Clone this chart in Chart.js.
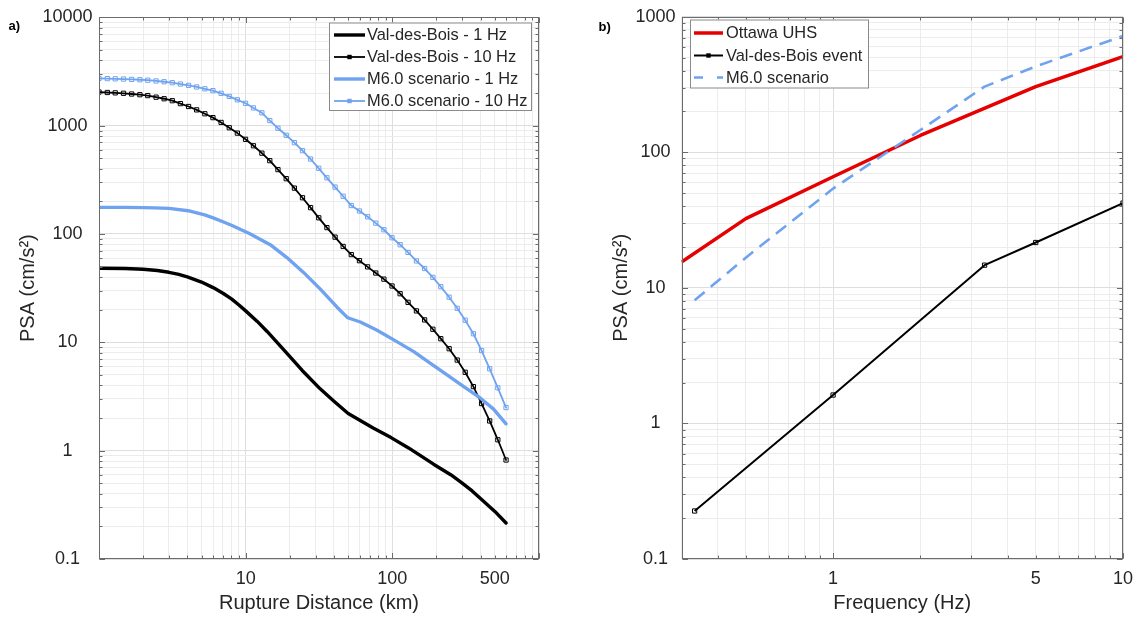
<!DOCTYPE html>
<html><head><meta charset="utf-8">
<script src="https://cdn.jsdelivr.net/npm/chart.js@4"></script>
<style>
html,body{margin:0;padding:0;background:#fff;width:1143px;height:617px;overflow:hidden;}
.pane{position:absolute;top:0;}
</style></head><body>
<div class="pane" style="left:0;width:560px;height:617px"><canvas id="cA" width="560" height="617"></canvas></div>
<div class="pane" style="left:580px;width:563px;height:617px"><canvas id="cB" width="563" height="617"></canvas></div>
<script>
// ---------------- data (panel a) ----------------
const distanceKm = [1, 1.14, 1.29, 1.47, 1.67, 1.9, 2.15, 2.45, 2.78, 3.16, 3.59, 4.08, 4.63, 5.27, 5.98, 6.8, 7.73, 8.78, 9.98, 11.3, 12.9, 14.6, 16.6, 18.9, 21.5, 24.4, 27.7, 31.5, 35.8, 40.7, 46.2, 52.5, 59.7, 67.8, 77.1, 87.6, 99.5, 113, 128, 146, 166, 189, 214, 244, 277, 314, 357, 406, 461, 524, 596];
const vdb10Hz = [2042, 2023, 2007, 1989, 1959, 1930, 1894, 1831, 1771, 1699, 1597, 1502, 1398, 1287, 1186, 1070, 956, 853, 748, 652, 557, 475, 393, 324, 265, 216, 175, 141, 114.5, 93.5, 76.7, 64.5, 56.7, 49.7, 43.6, 38.3, 33.1, 28.1, 23.4, 19.5, 16.1, 13.2, 10.8, 8.73, 6.86, 5.29, 3.9, 2.72, 1.88, 1.26, 0.82];
const m6_10Hz = [2729, 2716, 2704, 2692, 2671, 2652, 2628, 2584, 2541, 2491, 2421, 2354, 2275, 2188, 2104, 1989, 1861, 1732, 1608, 1457, 1313, 1114, 947, 815, 696, 587, 492, 404, 330, 271, 223, 183, 163, 144, 126, 109.4, 92.3, 79.6, 67.6, 56.4, 48.0, 39.8, 32.6, 26.1, 20.6, 16.0, 12.0, 8.4, 5.7, 3.8, 2.5];
const vdb1HzDist = [1, 1.5, 2, 2.5, 3, 3.5, 4, 5, 6, 7, 8, 9, 10, 12, 14, 18.4, 24.3, 32.2, 40, 50, 74, 98, 129, 191, 250, 298, 350, 415, 500, 596];
const vdb1Hz = [48.3, 48.0, 47.3, 46.0, 44.3, 42.3, 40.2, 36.0, 32.0, 28.4, 25.2, 22.1, 19.5, 15.6, 12.6, 8.4, 5.5, 3.72, 2.86, 2.2, 1.62, 1.32, 1.06, 0.75, 0.60, 0.505, 0.425, 0.345, 0.275, 0.215];
const m6_1HzDist = [1, 1.5, 2, 2.4, 3, 4.05, 5.25, 6, 7, 8, 10.6, 14.7, 19.1, 24.8, 32.3, 42, 47, 49.5, 52, 60.5, 78.7, 108, 140, 182, 236, 307, 399, 490, 596];
const m6_1Hz = [176, 176, 175, 174, 172.5, 164, 150, 141, 129.6, 120.5, 101, 79.7, 60.6, 44.2, 31.0, 21.1, 18.1, 16.9, 16.5, 15.4, 12.9, 10.1, 8.2, 6.4, 5.0, 3.9, 3.05, 2.42, 1.77];
const xLabelsA = [10, 100, 500];
const yLabelsA = [0.1, 1, 10, 100, 1000, 10000];
// ---------------- data (panel b) ----------------
const freqUHS = [0.3, 0.5, 1, 2, 5, 10];
const ottawaUHS = [15.5, 32.4, 66, 133, 305, 507];
const freqEvent = [0.333, 1, 3.33, 5, 10];
const vdbEvent = [0.226, 1.62, 14.7, 21.6, 42.2];
const freqScenario = [0.333, 0.5, 1, 2, 3.33, 5, 10];
const m6Scenario = [8.1, 16.7, 54, 146, 305, 430, 720];
const xLabelsB = [1, 5, 10];
const yLabelsB = [0.1, 1, 10, 100, 1000];

const FONT = '"Liberation Sans", Arial, Helvetica, sans-serif';
const TXT = '#262626';
const BLUE = '#6fa3f0';
const RED = '#e60000';
Chart.defaults.font.family = FONT;

function logGrid(min, max) {
  const out = [];
  for (let e = Math.floor(Math.log10(min)); e <= Math.ceil(Math.log10(max)); e++) {
    for (let k = 1; k < 10; k++) {
      const v = +(k * Math.pow(10, e)).toPrecision(6);
      if (v >= min * 0.9999 && v <= max * 1.0001) out.push(v);
    }
  }
  return out;
}
function isMajor(v) { const l = Math.log10(v); return Math.abs(l - Math.round(l)) < 1e-9; }
const gridColor = c => (c.tick && isMajor(c.tick.value)) ? '#dedede' : '#ececec';
function pts(xs, ys) { return xs.map((x, i) => ({x: x, y: ys[i]})); }

const framePlugin = {
  id: 'frameLegend',
  afterDraw(chart, args, o) {
    const ctx = chart.ctx, a = chart.chartArea, xs = chart.scales.x, ys = chart.scales.y;
    ctx.save();
    const L = Math.round(a.left) + 0.5, R = Math.round(a.right) - 0.5, T = Math.round(a.top) + 0.5, B = Math.round(a.bottom) - 0.5;
    ctx.strokeStyle = '#6b6b6b'; ctx.lineWidth = 1;
    ctx.beginPath();
    o.xGrid.forEach(v => { const p = Math.round(xs.getPixelForValue(v)) + 0.5; const len = isMajor(v) ? 5.5 : 3;
      ctx.moveTo(p, B); ctx.lineTo(p, B - len); ctx.moveTo(p, T); ctx.lineTo(p, T + len); });
    o.yGrid.forEach(v => { const p = Math.round(ys.getPixelForValue(v)) + 0.5; const len = isMajor(v) ? 5.5 : 3;
      ctx.moveTo(L, p); ctx.lineTo(L + len, p); ctx.moveTo(R, p); ctx.lineTo(R - len, p); });
    ctx.stroke();
    ctx.strokeRect(L, T, R - L, B - T);
    // legend
    const lg = o.legend;
    ctx.fillStyle = '#fff'; ctx.fillRect(lg.x1, lg.y1, lg.x2 - lg.x1, lg.y2 - lg.y1);
    ctx.strokeStyle = '#8a8a8a'; ctx.lineWidth = 1;
    ctx.strokeRect(lg.x1 + 0.5, lg.y1 + 0.5, lg.x2 - lg.x1 - 1, lg.y2 - lg.y1 - 1);
    chart.data.datasets.forEach((ds, i) => {
      const y = lg.rows[i];
      ctx.strokeStyle = ds.borderColor; ctx.lineWidth = ds.borderWidth;
      ctx.setLineDash(ds.legendDash || []);
      ctx.beginPath(); ctx.moveTo(lg.s1, y); ctx.lineTo(lg.s2, y); ctx.stroke();
      ctx.setLineDash([]);
      if (ds.pointRadius > 0) {
        const c = (lg.s1 + lg.s2) / 2;
        ctx.fillStyle = ds.borderColor; ctx.fillRect(c - 2.2, y - 2.2, 4.4, 4.4);
      }
      ctx.fillStyle = TXT; ctx.font = '16.4px ' + FONT; ctx.textBaseline = 'middle'; ctx.textAlign = 'left';
      ctx.fillText(ds.label, lg.tx, y + 0.5);
    });
    // panel tag
    ctx.fillStyle = '#000'; ctx.font = 'bold 13px ' + FONT; ctx.textBaseline = 'alphabetic';
    ctx.fillText(o.tag.text, o.tag.x, o.tag.y);
    ctx.restore();
  }
};

function axisX(min, max, labels, title, fitH, titlePad) {
  const g = logGrid(min, max);
  return {
    type: 'logarithmic', min: min, max: max, position: 'bottom',
    afterBuildTicks: s => { s.ticks = g.map(v => ({value: v})); },
    afterFit: s => { s.height = fitH; },
    ticks: {autoSkip: false, maxRotation: 0, minRotation: 0, padding: 9, color: TXT, font: {size: 18},
      callback: v => labels.includes(+(+v).toPrecision(6)) ? String(+(+v).toPrecision(6)) : ''},
    grid: {drawTicks: false, color: gridColor, lineWidth: 1},
    border: {display: false},
    title: {display: true, text: title, color: TXT, font: {size: 20}, padding: {top: 0, bottom: titlePad}}
  };
}
function axisY(min, max, labels, fitW, tickPad, titlePad) {
  const g = logGrid(min, max);
  return {
    type: 'logarithmic', min: min, max: max, position: 'left',
    afterBuildTicks: s => { s.ticks = g.map(v => ({value: v})); },
    afterFit: s => { s.width = fitW; },
    ticks: {autoSkip: false, crossAlign: 'center', padding: tickPad, color: TXT, font: {size: 18},
      callback: v => labels.includes(+(+v).toPrecision(6)) ? String(+(+v).toPrecision(6)) : ''},
    grid: {drawTicks: false, color: gridColor, lineWidth: 1},
    border: {display: false},
    title: {display: true, text: 'PSA (cm/s²)', color: TXT, font: {size: 20}, padding: {top: titlePad, bottom: 0}}
  };
}

const markerStyle = col => ({pointStyle: 'rect', pointRadius: 3, pointHoverRadius: 3, pointBorderWidth: 1,
  pointBorderColor: col, pointBackgroundColor: 'rgba(255,255,255,0)'});

new Chart(document.getElementById('cA'), {
  type: 'line',
  data: {datasets: [
    {label: 'Val-des-Bois - 1 Hz', data: pts(vdb1HzDist, vdb1Hz), borderColor: '#000', borderWidth: 3.4, pointRadius: 0, order: 3},
    Object.assign({label: 'Val-des-Bois - 10 Hz', data: pts(distanceKm, vdb10Hz), borderColor: '#000', borderWidth: 1.8, order: 2}, markerStyle('#000')),
    {label: 'M6.0 scenario - 1 Hz', data: pts(m6_1HzDist, m6_1Hz), borderColor: BLUE, borderWidth: 3.4, pointRadius: 0, order: 1},
    Object.assign({label: 'M6.0 scenario - 10 Hz', data: pts(distanceKm, m6_10Hz), borderColor: BLUE, borderWidth: 1.8, order: 0}, markerStyle(BLUE))
  ]},
  options: {
    responsive: false, animation: false, events: [], devicePixelRatio: 1,
    layout: {padding: {top: 13, right: 21, left: 0, bottom: 0}},
    elements: {line: {tension: 0, borderJoinStyle: 'round', borderCapStyle: 'round'}},
    scales: {
      x: axisX(1, 1000, xLabelsA, 'Rupture Distance (km)', 58, 2),
      y: axisY(0.1, 10000, yLabelsA, 99, 6.5, 16.7)
    },
    plugins: {legend: {display: false}, tooltip: {enabled: false},
      frameLegend: {xGrid: logGrid(1, 1000), yGrid: logGrid(0.1, 10000),
        legend: {x1: 329, y1: 22.5, x2: 532, y2: 111, rows: [35, 57, 79, 101], s1: 334, s2: 365, tx: 367},
        tag: {text: 'a)', x: 8.4, y: 30}}}
  },
  plugins: [framePlugin]
});

new Chart(document.getElementById('cB'), {
  type: 'line',
  data: {datasets: [
    {label: 'Ottawa UHS', data: pts(freqUHS, ottawaUHS), borderColor: RED, borderWidth: 3.5, pointRadius: 0, order: 2},
    Object.assign({label: 'Val-des-Bois event', data: pts(freqEvent, vdbEvent), borderColor: '#000', borderWidth: 2, order: 1}, markerStyle('#000')),
    {label: 'M6.0 scenario', data: pts(freqScenario, m6Scenario), borderColor: BLUE, borderWidth: 2.6, pointRadius: 0,
      borderDash: [13, 8], legendDash: [9, 14], order: 0}
  ]},
  options: {
    responsive: false, animation: false, events: [], devicePixelRatio: 1,
    layout: {padding: {top: 13, right: 20, left: 0, bottom: 0}},
    elements: {line: {tension: 0, borderJoinStyle: 'round'}},
    scales: {
      x: axisX(0.3, 10, xLabelsB, 'Frequency (Hz)', 58, 2),
      y: axisY(0.1, 1000, yLabelsB, 101.5, 5.9, 29.2)
    },
    plugins: {legend: {display: false}, tooltip: {enabled: false},
      frameLegend: {xGrid: logGrid(0.3, 10), yGrid: logGrid(0.1, 1000),
        legend: {x1: 110, y1: 19.5, x2: 289, y2: 88.5, rows: [33, 55.5, 77.5], s1: 114, s2: 143, tx: 146},
        tag: {text: 'b)', x: 18.5, y: 31}}}
  },
  plugins: [framePlugin]
});
</script>
</body></html>
